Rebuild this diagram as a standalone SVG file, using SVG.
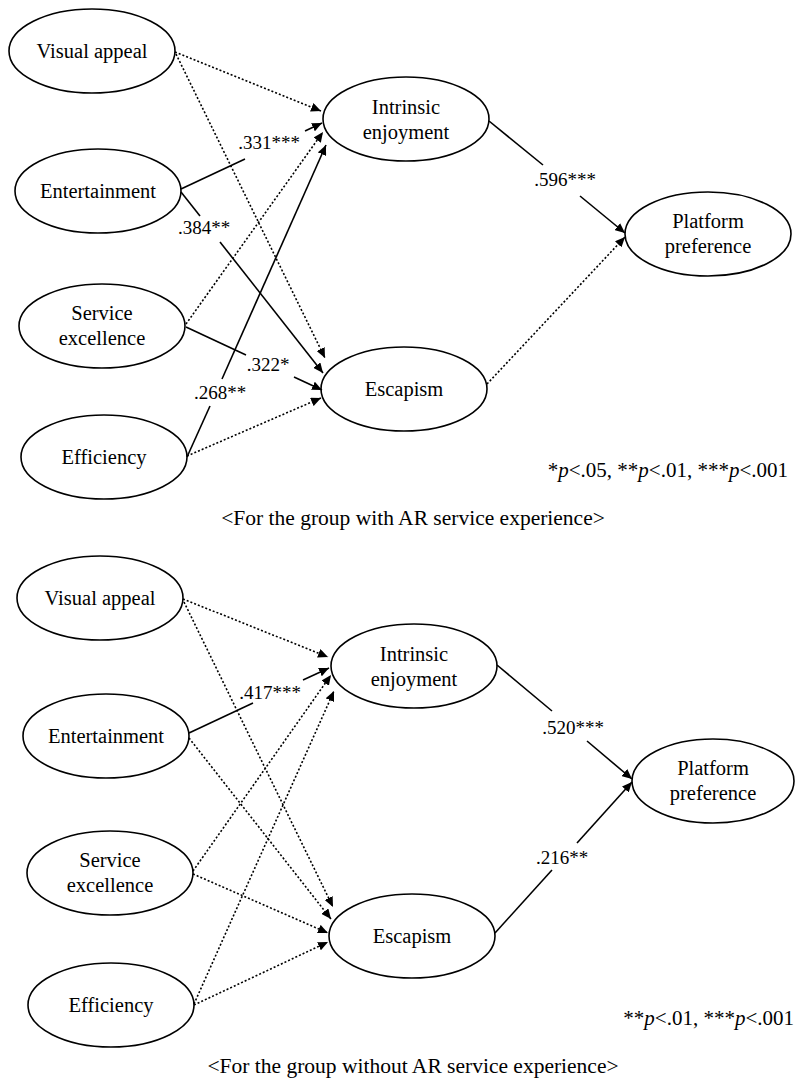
<svg xmlns="http://www.w3.org/2000/svg" width="795" height="1079" viewBox="0 0 795 1079">
<style>
.n ellipse{fill:#fff;stroke:#000;stroke-width:1.6}
text{font-family:"Liberation Serif","Times New Roman",serif;fill:#000}
.nt{font-size:20.5px;text-anchor:middle}
.lb{font-size:19px;text-anchor:middle}
.cap{font-size:21.5px;text-anchor:middle}
.lg{font-size:21px;text-anchor:end}
.s{stroke:#000;stroke-width:1.6;fill:none}
.d{stroke:#000;stroke-width:1.6;fill:none;stroke-dasharray:2 2}
.a{marker-end:url(#ah)}
</style>
<defs>
<marker id="ah" markerUnits="userSpaceOnUse" markerWidth="11" markerHeight="9" refX="10" refY="4.5" orient="auto">
<path d="M0,0 L10,4.5 L0,9 z" fill="#000"/>
</marker>
</defs>
<rect width="795" height="1079" fill="#fff"/>

<g id="top-va" class="n"><ellipse cx="92" cy="51" rx="83" ry="42"/><text class="nt" x="92" y="58">Visual appeal</text></g>
<g id="top-ent" class="n"><ellipse cx="98" cy="191" rx="83" ry="42"/><text class="nt" x="98" y="198">Entertainment</text></g>
<g id="top-se" class="n"><ellipse cx="102" cy="326" rx="83" ry="42"/><text class="nt" x="102" y="320">Service</text><text class="nt" x="102" y="345">excellence</text></g>
<g id="top-eff" class="n"><ellipse cx="104" cy="457" rx="83" ry="42"/><text class="nt" x="104" y="464">Efficiency</text></g>
<g id="top-int" class="n"><ellipse cx="406" cy="119" rx="83" ry="42"/><text class="nt" x="406" y="114">Intrinsic</text><text class="nt" x="406" y="139">enjoyment</text></g>
<g id="top-esc" class="n"><ellipse cx="404" cy="389" rx="83" ry="42"/><text class="nt" x="404" y="396">Escapism</text></g>
<g id="top-plat" class="n"><ellipse cx="708" cy="234" rx="83" ry="42"/><text class="nt" x="708" y="228">Platform</text><text class="nt" x="708" y="253">preference</text></g>

<g id="bot-va" class="n"><ellipse cx="100" cy="598" rx="83" ry="42"/><text class="nt" x="100" y="605">Visual appeal</text></g>
<g id="bot-ent" class="n"><ellipse cx="106" cy="736" rx="83" ry="42"/><text class="nt" x="106" y="743">Entertainment</text></g>
<g id="bot-se" class="n"><ellipse cx="110" cy="873" rx="83" ry="42"/><text class="nt" x="110" y="867">Service</text><text class="nt" x="110" y="892">excellence</text></g>
<g id="bot-eff" class="n"><ellipse cx="111" cy="1005" rx="83" ry="42"/><text class="nt" x="111" y="1012">Efficiency</text></g>
<g id="bot-int" class="n"><ellipse cx="414" cy="666" rx="83" ry="42"/><text class="nt" x="414" y="661">Intrinsic</text><text class="nt" x="414" y="686">enjoyment</text></g>
<g id="bot-esc" class="n"><ellipse cx="412" cy="936" rx="83" ry="42"/><text class="nt" x="412" y="943">Escapism</text></g>
<g id="bot-plat" class="n"><ellipse cx="713" cy="781" rx="81" ry="42"/><text class="nt" x="713" y="775">Platform</text><text class="nt" x="713" y="800">preference</text></g>

<g id="connectors">
<line class="d a" x1="175" y1="52" x2="321" y2="111"/>
<line class="s" x1="181" y1="189" x2="245" y2="159"/>
<line class="s a" x1="305" y1="131" x2="322" y2="123"/>
<line class="d a" x1="186" y1="324" x2="323" y2="132"/>
<line class="s" x1="187" y1="457" x2="210" y2="406"/>
<line class="s a" x1="222" y1="379" x2="326" y2="145"/>
<line class="d a" x1="176" y1="54" x2="325" y2="358"/>
<line class="s" x1="181" y1="192" x2="200" y2="216"/>
<line class="s a" x1="220" y1="242" x2="323" y2="373"/>
<line class="s" x1="186" y1="327" x2="246" y2="355"/>
<line class="s a" x1="294" y1="377" x2="322" y2="390"/>
<line class="d a" x1="187" y1="456" x2="321" y2="398"/>
<line class="s" x1="489" y1="121" x2="543" y2="165"/>
<line class="s a" x1="580" y1="196" x2="625" y2="233"/>
<line class="d a" x1="487" y1="384" x2="625" y2="237"/>

<line class="d a" x1="183" y1="599" x2="328" y2="657"/>
<line class="s" x1="189" y1="733" x2="253" y2="703"/>
<line class="s a" x1="303" y1="680" x2="329" y2="668"/>
<line class="d a" x1="193" y1="871" x2="331" y2="675"/>
<line class="d a" x1="194" y1="1004" x2="334" y2="691"/>
<line class="d a" x1="184" y1="602" x2="333" y2="907"/>
<line class="d a" x1="189" y1="738" x2="331" y2="919"/>
<line class="d a" x1="193" y1="874" x2="328" y2="933"/>
<line class="d a" x1="194" y1="1005" x2="328" y2="942"/>
<line class="s" x1="497" y1="665" x2="552" y2="711"/>
<line class="s a" x1="587" y1="741" x2="632" y2="779"/>
<line class="s" x1="495" y1="933" x2="552" y2="870"/>
<line class="s a" x1="577" y1="843" x2="632" y2="782"/>
</g>

<g id="labels">
<text class="lb" x="269" y="149">.331***</text>
<text class="lb" x="204" y="234">.384**</text>
<text class="lb" x="220" y="399">.268**</text>
<text class="lb" x="268" y="371">.322*</text>
<text class="lb" x="565" y="186">.596***</text>
<text class="lb" x="270" y="699">.417***</text>
<text class="lb" x="573" y="734">.520***</text>
<text class="lb" x="562" y="864">.216**</text>
</g>

<g id="legends">
<text class="lg" x="788" y="477">*<tspan font-style="italic">p</tspan>&lt;.05, **<tspan font-style="italic">p</tspan>&lt;.01, ***<tspan font-style="italic">p</tspan>&lt;.001</text>
<text class="lg" x="794" y="1025">**<tspan font-style="italic">p</tspan>&lt;.01, ***<tspan font-style="italic">p</tspan>&lt;.001</text>
<text class="cap" x="413" y="525">&lt;For the group with AR service experience&gt;</text>
<text class="cap" x="413" y="1073">&lt;For the group without AR service experience&gt;</text>
</g>
</svg>
